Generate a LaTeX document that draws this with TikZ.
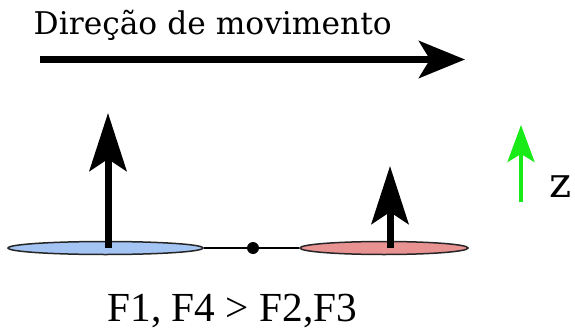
\documentclass[tikz,border=0pt]{standalone}
\usepackage{fontspec}
\setmainfont{DejaVu Serif}
\newfontfamily\libserif{Liberation Serif}
\usetikzlibrary{arrows.meta,shapes.geometric}
\definecolor{diskblue}{RGB}{164,196,244}
\definecolor{diskred}{RGB}{232,146,146}
\definecolor{zgreen}{RGB}{24,235,24}
\begin{document}
\begin{tikzpicture}[x=1pt,y=-1pt,
  movearrow/.style={line width=7pt,-{Stealth[length=46pt,width=37pt,inset=11pt]}},
  forcearrow/.style={line width=7pt,-{Stealth[length=58pt,width=37pt,inset=12pt]}},
  axisarrow/.style={zgreen,line width=4pt,-{Stealth[length=37pt,width=27pt,inset=8pt]}},
  disk/.style={ellipse,draw=black!85,line width=1.5pt,inner sep=0pt,minimum height=13pt},
  label/.style={inner sep=0pt,anchor=base west}]
\useasboundingbox (0,0) rectangle (575,329);
% title and motion arrow
\node[label,font=\fontsize{31.3}{36}\selectfont] (title) at (33.5,34.3) {Direção de movimento};
\coordinate (ms) at (40,59.5);
\coordinate (me) at (465,59.5);
\draw[movearrow] (ms) -- (me);
% disks and connector
\node[disk,fill=diskblue,minimum width=195pt] (d1) at (105.5,248) {};
\node[disk,fill=diskred,minimum width=168pt] (d2) at (384,248) {};
\node[circle,fill=black,inner sep=0pt,minimum size=12pt] (c) at (253,248) {};
\draw[line width=1.5pt] (d1.east) -- (c) -- (d2.west);
% force arrows
\coordinate (f1s) at (108,248);
\coordinate (f1e) at (108,113);
\draw[forcearrow] (f1s) -- (f1e);
\coordinate (f2s) at (390,248);
\coordinate (f2e) at (390,166);
\draw[forcearrow] (f2s) -- (f2e);
% z axis
\coordinate (zs) at (521,202);
\coordinate (ze) at (521,125);
\draw[axisarrow] (zs) -- (ze);
\node[label,font=\fontsize{42}{48}\selectfont] (z) at (549,197) {z};
% bottom text
\node[label,font=\libserif\fontsize{41.3}{46}\selectfont] (rel) at (107.5,321) {F1, F4 > F2,F3};
\end{tikzpicture}
\end{document}
